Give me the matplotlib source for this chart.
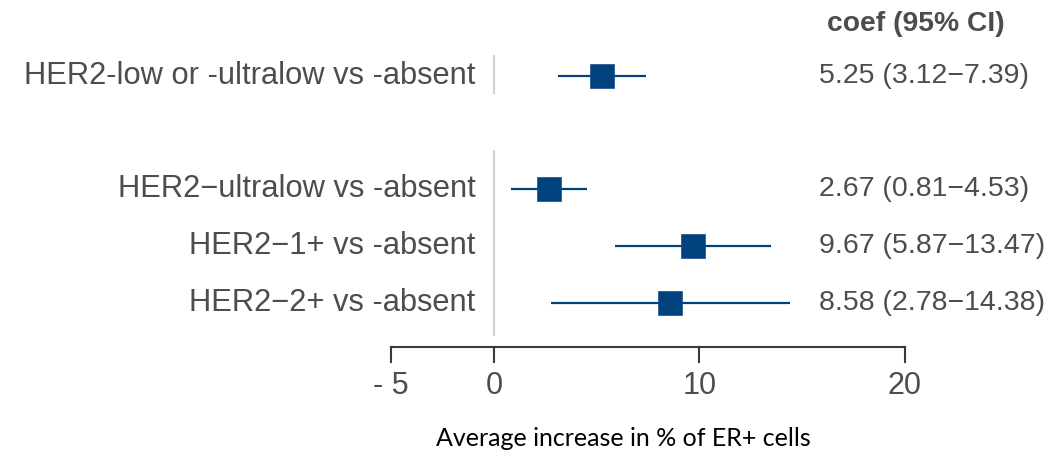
import matplotlib.pyplot as plt

# forest plot data
labels = ["HER2-low or -ultralow vs -absent", "HER2\u2212ultralow vs -absent",
          "HER2\u22121+ vs -absent", "HER2\u22122+ vs -absent"]
coef = [5.25, 2.67, 9.67, 8.58]
lower = [3.12, 0.81, 5.87, 2.78]
upper = [7.39, 4.53, 13.47, 14.38]
rows = [0, 2, 3, 4]  # gap after the first row
ticks = [-5, 0, 10, 20]
tick_labels = ["- 5", "0", "10", "20"]

grey = "#4d4d4d"
blue = "#00427e"

fig = plt.figure(figsize=(10.63, 4.59), dpi=100)
ax = fig.add_axes([0, 0, 1, 1])
# map data to pixels: 0 at x=494px, 20.55 px per unit; row 0 at y=76px, 56.75 px per row
ax.set_xlim(-494 / 20.55, (1063 - 494) / 20.55)
ax.set_ylim((459 - 76) / 56.75, -76 / 56.75)
ax.axis("off")

# reference line at zero, split between the two groups
ax.plot([0, 0], [-0.35, 0.30], color="#d0d0d0", lw=1.5)
ax.plot([0, 0], [1.33, 4.56], color="#d0d0d0", lw=1.5)

for i in range(len(coef)):
    y = rows[i]
    ax.plot([lower[i], upper[i]], [y, y], color=blue, lw=1.6, solid_capstyle="butt")
    ax.plot(coef[i], y, marker="s", markersize=17.5, color=blue, markeredgecolor="#1a4f86",
            markeredgewidth=0.5)
    ax.text(-0.9, y, labels[i], ha="right", va="center", fontsize=22.2,
            color=grey, family="Liberation Sans")
    ax.text(15.82, y, f"{coef[i]:.2f} ({lower[i]:.2f}\u2212{upper[i]:.2f})",
            ha="left", va="center", fontsize=20.5, color=grey, family="Liberation Sans")

ax.text(16.2, -0.92, "coef (95% CI)", ha="left", va="center", fontsize=20.3,
        fontweight="bold", color=grey, family="Liberation Sans")

# x axis drawn by hand
axis_y = 4.775
ax.plot([ticks[0], ticks[-1]], [axis_y, axis_y], color="#3a3a3a", lw=1.5)
for t, tl in zip(ticks, tick_labels):
    ax.plot([t, t], [axis_y, axis_y + 0.27], color="#3a3a3a", lw=1.5)
    ax.text(t, axis_y + 0.68, tl, ha="center", va="center", fontsize=22,
            color=grey, family="Liberation Sans")

ax.text(6.3, 6.38, "Average increase in % of ER+ cells", ha="center", va="center",
        fontsize=18, color="black", family="Lato")

fig.savefig("out.png", dpi=100)
